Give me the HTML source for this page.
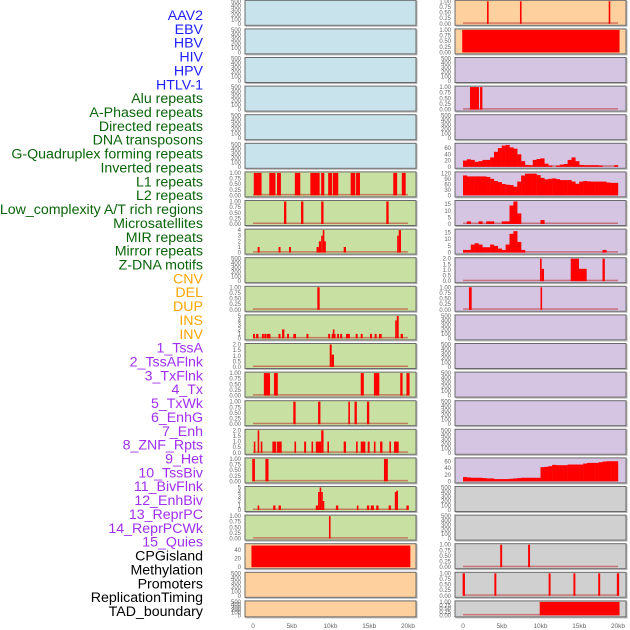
<!DOCTYPE html>
<html><head><meta charset="utf-8">
<style>
html,body{margin:0;padding:0;background:#fff;}
svg{display:block;font-family:"Liberation Sans",sans-serif;}
</style></head>
<body>
<svg id="chart" width="630" height="630" viewBox="0 0 630 630"></svg>
<script>
const labelNames = ["AAV2","EBV","HBV","HIV","HPV","HTLV-1","Alu repeats","A-Phased repeats","Directed repeats","DNA transposons","G-Quadruplex forming repeats","Inverted repeats","L1 repeats","L2 repeats","Low_complexity A/T rich regions","Microsatellites","MIR repeats","Mirror repeats","Z-DNA motifs","CNV","DEL","DUP","INS","INV","1_TssA","2_TssAFlnk","3_TxFlnk","4_Tx","5_TxWk","6_EnhG","7_Enh","8_ZNF_Rpts","9_Het","10_TssBiv","11_BivFlnk","12_EnhBiv","13_ReprPC","14_ReprPCWk","15_Quies","CPGisland","Methylation","Promoters","ReplicationTiming","TAD_boundary"];
const labelColors = ["#1f1fff","#1f1fff","#1f1fff","#1f1fff","#1f1fff","#1f1fff","#0a640a","#0a640a","#0a640a","#0a640a","#0a640a","#0a640a","#0a640a","#0a640a","#0a640a","#0a640a","#0a640a","#0a640a","#0a640a","#ffa500","#ffa500","#ffa500","#ffa500","#ffa500","#a030f0","#a030f0","#a030f0","#a030f0","#a030f0","#a030f0","#a030f0","#a030f0","#a030f0","#a030f0","#a030f0","#a030f0","#a030f0","#a030f0","#a030f0","#000","#000","#000","#000","#000"];
const panelBg = ["#c8e3eb","#c8e3eb","#c8e3eb","#c8e3eb","#c8e3eb","#c8e3eb","#c8e1a2","#c8e1a2","#c8e1a2","#c8e1a2","#c8e1a2","#c8e1a2","#c8e1a2","#c8e1a2","#c8e1a2","#c8e1a2","#c8e1a2","#c8e1a2","#c8e1a2","#fed09e","#fed09e","#fed09e","#fed09e","#fed09e","#d5c5e2","#d5c5e2","#d5c5e2","#d5c5e2","#d5c5e2","#d5c5e2","#d5c5e2","#d5c5e2","#d5c5e2","#d5c5e2","#d5c5e2","#d5c5e2","#d5c5e2","#d5c5e2","#d5c5e2","#d0d0d0","#d0d0d0","#d0d0d0","#d0d0d0","#d0d0d0"];
const xTicks = [0,5,10,15,20];
const xTickLabels = ["0","5kb","10kb","15kb","20kb"];
const ticksEmpty = [0,100,200,300,400,500];
const ticksBinary = [0,0.25,0.5,0.75,1];
const bars_Alu = [[0.1,1.1,1],[2.1,2.9,1],[3.1,3.6,1],[5.4,6.1,1],[7.4,8.6,1],[8.8,9.2,1],[9.7,10.2,1],[10.3,11.0,1],[12.6,13.2,1],[13.3,13.8,1],[18.1,18.6,1],[19.2,19.7,1]];
const bars_APhased = [[4.0,4.3,1],[6.2,6.5,1],[8.8,9.1,1],[17.2,17.5,1]];
const bars_Directed = [[0.6,0.85,1],[3.3,3.55,1],[4.65,4.9,1],[8.2,8.5,1],[8.5,8.8,2],[8.8,9.0,3],[9.0,9.15,4],[9.15,9.4,2],[11.7,12.0,1],[18.6,18.8,3],[18.8,19.1,4]];
const bars_GQuad = [[8.3,8.6,1]];
const bars_Inverted = [[0.0,0.25,1],[0.4,0.7,1],[1.15,1.4,1],[1.45,1.7,1],[1.75,2.0,1],[2.0,2.25,1],[3.3,3.55,1],[3.75,4.05,2],[4.4,4.65,1],[5.2,5.55,1],[6.9,7.15,1],[9.7,9.95,1],[10.15,10.3,1],[10.3,10.45,2],[10.45,10.6,1],[10.85,11.1,1],[11.25,11.5,1],[12.0,12.5,1],[13.25,13.5,1],[13.9,14.15,1],[15.1,15.35,1],[15.7,15.95,1],[16.25,16.6,1],[18.35,18.55,4],[18.55,18.8,5],[19.05,19.35,1]];
const bars_L1 = [[9.9,10.15,2],[10.15,10.45,1.1]];
const bars_L2 = [[1.4,2.2,1],[2.7,3.2,1],[13.9,14.3,1],[15.6,16.3,1],[19.0,19.3,1],[19.8,20.2,1]];
const bars_LowComplexity = [[5.2,5.5,1],[8.4,8.7,1],[12.3,12.5,1],[13.1,13.4,1],[14.7,15.0,1]];
const bars_Microsat = [[0.1,0.3,1],[0.6,0.8,2],[1.0,1.2,1],[2.5,3.0,1],[3.1,3.7,1],[5.35,5.55,1],[6.6,6.85,1],[7.55,7.75,1],[8.1,8.8,1],[8.8,9.1,2],[9.6,9.8,1],[11.7,12.0,1],[13.3,13.5,1],[13.9,14.5,1],[14.8,15.05,1],[15.6,15.8,1],[16.4,16.7,1],[17.6,17.8,1],[18.2,18.8,1]];
const bars_MIR = [[-0.1,0.25,1],[1.6,2.0,1],[16.9,17.4,1]];
const bars_Mirror = [[0.6,0.8,1],[2.6,2.9,1],[3.3,3.6,1],[8.1,8.4,1],[8.4,8.6,4],[8.6,8.8,5],[8.8,8.95,4],[8.95,9.2,2],[10.7,11.0,1],[13.4,13.6,1],[14.7,15.0,1],[15.2,15.6,1],[15.9,16.2,1],[17.5,17.8,1],[18.3,18.5,4],[18.5,18.7,4.3],[19.8,20.1,1]];
const bars_ZDNA = [[9.8,10.0,1]];
const bars_CNV = [[-0.2,20.3,50]];
const bars_INS = [[3.1,3.3,1],[7.35,7.55,1],[18.8,19.0,1]];
const bars_INV = [[-0.1,20.2,1]];
const bars_TssAFlnk = [[0.9,2.06,1],[2.2,2.5,1]];
const bins_Tx = [20,24,22,16,18,22,22,30,48,60,68,70,62,58,40,18,6,5,22,25,27,10,4,0,4,7,9,22,30,18,6,5,5,5,5,4,0,0,0,5];
const bins_TxWk = [108,103,103,103,103,103,100,90,78,72,62,58,56,47,75,108,118,118,118,110,95,87,90,92,88,83,83,83,75,63,75,78,76,75,75,75,75,70,68,68];
const bins_EnhG = [0,2,0,0,2,0,2,2,0,0,2,2,14,17,8,0,0,0,0,0,3,0,0,0,0,0,0,0,0,0,0,0,0,0,0,0,0,0,0,0];
const bins_Enh = [2,2,6,7,6,4,4,6,5,3,2,6,14,16,8,2,0,0,0,0,0,0,0,0,0,0,0,0,0,0,0,0,0,0,0,0,2,0,0,0];
const bars_ZNF = [[9.94,10.15,2],[10.15,10.45,1.1],[13.9,14.97,2],[14.97,15.96,1.1],[18.0,18.3,2]];
const bars_Het = [[0.77,1.12,1],[10.0,10.15,1]];
const bins_Quies = [13,12,11,11,11,10,9,9,7,7,7,7,8,9,10,11,11,11,11,11,43,44,46,50,49,49,49,51,51,51,51,54,56,56,56,58,60,61,61,61];
const bars_Promoters = [[4.8,5.05,1],[8.4,8.65,1]];
const bars_RepTiming = [[-0.05,0.25,1],[4.05,4.3,1],[11.05,11.3,1],[14.25,14.5,1],[17.45,17.7,1],[19.85,20.15,1]];
const bars_TAD = [[9.9,20.2,1]];

// panel specs: [bars, bins, ymax, ticks, decimals]
const panelBars = [null,null,null,null,null,null,bars_Alu,bars_APhased,bars_Directed,null,bars_GQuad,bars_Inverted,bars_L1,bars_L2,bars_LowComplexity,bars_Microsat,bars_MIR,bars_Mirror,bars_ZDNA,bars_CNV,null,null,bars_INS,bars_INV,null,bars_TssAFlnk,null,null,null,null,null,bars_ZNF,bars_Het,null,null,null,null,null,null,null,null,bars_Promoters,bars_RepTiming,bars_TAD];
const panelBins = {27:bins_Tx,28:bins_TxWk,29:bins_EnhG,30:bins_Enh,38:bins_Quies};
const panelYMax = [500,500,500,500,500,500,1,1,4,500,1,5,2,1,1,2,1,5,1,52,500,500,1,1,500,1,500,72,122,17,16.8,2,1,500,500,500,500,500,68,500,500,1,1,1];
const panelTicks = [ticksEmpty,ticksEmpty,ticksEmpty,ticksEmpty,ticksEmpty,ticksEmpty,ticksBinary,ticksBinary,[0,1,2,3,4],ticksEmpty,ticksBinary,[0,1,2,3,4,5],[0,0.5,1,1.5,2],ticksBinary,ticksBinary,[0,0.5,1,1.5,2],ticksBinary,[0,1,2,3,4,5],ticksBinary,[0,20,40],ticksEmpty,ticksEmpty,ticksBinary,ticksBinary,ticksEmpty,ticksBinary,ticksEmpty,[0,20,40,60],[0,30,60,90,120],[0,5,10,15],[0,5,10,15],[0,0.5,1,1.5,2],ticksBinary,ticksEmpty,ticksEmpty,ticksEmpty,ticksEmpty,ticksEmpty,[0,20,40,60],ticksEmpty,ticksEmpty,ticksBinary,ticksBinary,ticksBinary];

const NS = "http://www.w3.org/2000/svg";
const svg = document.getElementById('chart');
function mk(tag, attrs, parent){
  const e = document.createElementNS(NS, tag);
  for (const k in attrs) e.setAttribute(k, attrs[k]);
  (parent||svg).appendChild(e);
  return e;
}
// labels
labelNames.forEach((n,i)=>{
  const t = mk('text',{x:203,y:15+i*13.86+5,'text-anchor':'end','font-size':'14.2',fill:labelColors[i]});
  t.textContent = n;
  
  
});
function fmt(v, ticks){
  if (ticks===ticksBinary) return v.toFixed(2);
  if (ticks.some(t=>t%1!==0)) return v.toFixed(1);
  return String(v);
}
for (let p=0;p<44;p++){
  const col = p<22?0:1, row = p%22;
  const bx = col?455:245, bw = 171;
  const top = 0.3+28.6*row, h = row===21?16:25;
  const g = mk('g',{});
  
  
  mk('rect',{x:bx+1,y:top+1,width:bw,height:h,fill:'none',stroke:'#b5b5b5','stroke-width':1},g);
  mk('rect',{x:bx,y:top,width:bw,height:h,fill:panelBg[p],stroke:'#6a6a6a','stroke-width':1},g);
  const x0 = col?463:253;
  const xs = kb => x0 + kb*7.75;
  const yZero = top+h-1.5, yTop = top+1;
  const ymax = panelYMax[p];
  const ys = v => yZero - (v/ymax)*(yZero-yTop);
  const ticks = panelTicks[p];
  ticks.forEach(tv=>{
    const t = mk('text',{x:bx-4,y:ys(tv)+2,'text-anchor':'end','font-size':'6',fill:'#666'},g);
    t.textContent = fmt(tv,ticks);
    
    
  });
  const bars = panelBars[p], bins = panelBins[p];
  if (bars || bins){
    const bl = mk('rect',{x:xs(0),y:yZero-1.5,width:xs(20)-xs(0),height:1.5,fill:'rgba(190,40,40,0.55)'},g);
    
    
  }
  if (bars){
    bars.forEach(b=>{
      const w = Math.max(xs(b[1])-xs(b[0]),1.6);
      const r = mk('rect',{x:xs(b[0]),y:ys(b[2]),width:w,height:yZero-ys(b[2]),fill:'#ff0000'},g);
      
      
    });
  }
  if (bins){
    bins.forEach((v,i)=>{
      if (v<=0) return;
      const r = mk('rect',{x:xs(i*0.5),y:ys(v),width:xs((i+1)*0.5)-xs(i*0.5)+0.2,height:yZero-ys(v),fill:'#ff0000'},g);
      
      
    });
  }
}
// x axes
[253,463].forEach(x0=>{
  xTicks.forEach((k,i)=>{
    const t = mk('text',{x:x0+k*7.75,y:628,'text-anchor':'middle','font-size':'6.5',fill:'#666'});
    t.textContent = xTickLabels[i];
    
    
  });
});
</script>
</body></html>
